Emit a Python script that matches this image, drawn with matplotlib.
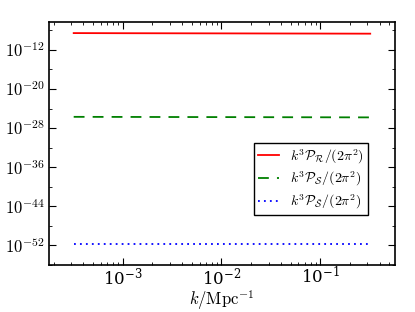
import matplotlib
matplotlib.use("Agg")
import matplotlib.pyplot as plt
from matplotlib.ticker import FixedLocator, NullFormatter

# ---- Data ----
k = [3.2e-4, 1e-3, 3e-3, 1e-2, 3e-2, 1e-1, 3.2e-1]
p_R = [2.7e-9, 2.55e-9, 2.45e-9, 2.35e-9, 2.25e-9, 2.15e-9, 2.05e-9]
p_S = [2.0e-26, 1.92e-26, 1.85e-26, 1.78e-26, 1.70e-26, 1.63e-26, 1.55e-26]
p_St = [1.6e-52, 1.6e-52, 1.6e-52, 1.6e-52, 1.6e-52, 1.6e-52, 1.6e-52]

labels = [r"$k^3\mathcal{P}_\mathcal{R}/(2\pi^2)$",
          r"$k^3\mathcal{P}_\mathcal{S}/(2\pi^2)$",
          r"$k^3\mathcal{P}_{\tilde{\mathcal{S}}}/(2\pi^2)$"]
y_major = [1e-52, 1e-44, 1e-36, 1e-28, 1e-20, 1e-12]
y_minor = [1e-56, 1e-48, 1e-40, 1e-32, 1e-24, 1e-16, 1e-8]

plt.rcParams["mathtext.fontset"] = "cm"
plt.rcParams["font.family"] = "serif"
plt.rcParams["xtick.direction"] = "in"
plt.rcParams["ytick.direction"] = "in"
plt.rcParams["xtick.top"] = True
plt.rcParams["ytick.right"] = True

fig = plt.figure(figsize=(4.15, 3.12), dpi=100)
ax = fig.add_axes([49 / 415, 1 - 265 / 312, 346 / 415, 243 / 312])

ax.loglog(k, p_R, color="red", lw=1.3, label=labels[0])
ax.loglog(k, p_S, color="green", lw=1.3, ls=(0, (6, 4.5)), label=labels[1])
ax.loglog(k, p_St, color="blue", lw=1.3, ls=(0, (1, 2.3)), label=labels[2])

ax.set_xlim(1.8e-4, 0.57)
ax.set_ylim(1e-56, 5e-7)
ax.yaxis.set_major_locator(FixedLocator(y_major))
ax.yaxis.set_minor_locator(FixedLocator(y_minor))
ax.yaxis.set_minor_formatter(NullFormatter())
ax.set_yticklabels([r"$10^{-52}$", r"$10^{-44}$", r"$10^{-36}$",
                    r"$10^{-28}$", r"$10^{-20}$", r"$10^{-12}$"])

for side in ax.spines.values():
    side.set_linewidth(1.2)
ax.tick_params(which="major", length=5, width=0.8, labelsize=12, pad=3)
ax.tick_params(axis="x", which="major", pad=1)
ax.tick_params(which="minor", length=2.5, width=0.6)

ax.set_xlabel(r"$k/\mathrm{Mpc}^{-1}$", fontsize=12, labelpad=0)

leg = ax.legend(loc="lower right", bbox_to_anchor=(0.922, 0.206), fontsize=10,
                fancybox=False, framealpha=1, edgecolor="black",
                handlelength=1.5, handletextpad=0.8,
                borderpad=0.3, labelspacing=0.3, borderaxespad=0)
leg.get_frame().set_linewidth(1.0)

fig.savefig("out.png", dpi=100)
